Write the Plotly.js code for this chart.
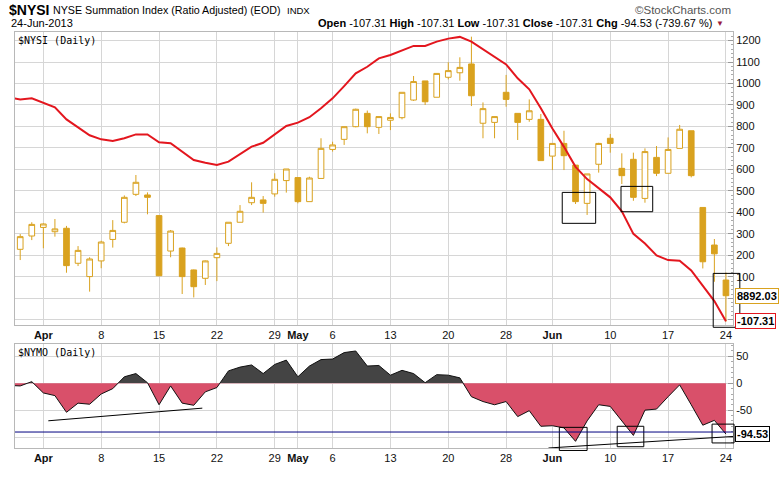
<!DOCTYPE html>
<html><head><meta charset="utf-8">
<script src="https://cdn.plot.ly/plotly-3.0.1.min.js"></script>
<style>html,body{margin:0;padding:0;background:#fff}#chart{width:784px;height:480px}</style>
</head><body><div id="chart"></div>
<script>
// ---------- data ----------
const dates = [
'2013-03-26','2013-03-27','2013-03-28',
'2013-04-01','2013-04-02','2013-04-03','2013-04-04','2013-04-05',
'2013-04-08','2013-04-09','2013-04-10','2013-04-11','2013-04-12',
'2013-04-15','2013-04-16','2013-04-17','2013-04-18','2013-04-19',
'2013-04-22','2013-04-23','2013-04-24','2013-04-25','2013-04-26',
'2013-04-29','2013-04-30','2013-05-01','2013-05-02','2013-05-03',
'2013-05-06','2013-05-07','2013-05-08','2013-05-09','2013-05-10',
'2013-05-13','2013-05-14','2013-05-15','2013-05-16','2013-05-17',
'2013-05-20','2013-05-21','2013-05-22','2013-05-23','2013-05-24',
'2013-05-28','2013-05-29','2013-05-30','2013-05-31',
'2013-06-03','2013-06-04','2013-06-05','2013-06-06','2013-06-07',
'2013-06-10','2013-06-11','2013-06-12','2013-06-13','2013-06-14',
'2013-06-17','2013-06-18','2013-06-19','2013-06-20','2013-06-21',
'2013-06-24'];

// $NYSI (red line)
const nysi = [935,926,931,911,889,833,796,759,740,732,745,763,763,726,722,683,644,631,621,636,
  670,706,724,763,802,818,843,885,931,988,1047,1078,1117,1133,1153,1175,1175,1195,1209,1217,
  1195,1159,1122,1089,1024,973,885,790,705,612,555,512,470,405,300,255,200,178,175,130,
  60,-12.78,-107.31];

// price overlay candles (from 2013-03-27)
const candleOpen  = [228,290,330,310,326,163,101,174,274,354,484,481,385,220,234,132,93,189,256,354,
  445,458,486,548,562,450,558,693,740,799,861,796,829,841,923,1012,936,1029,1050,1091,
  815,819,959,861,833,833,662,721,620,442,624,745,605,647,465,656,582,698,780,423,248,85];
const candleHigh  = [299,354,349,369,337,243,191,268,364,479,574,493,386,318,236,134,176,237,354,434,
  540,476,582,602,562,566,745,729,799,883,874,846,861,959,1035,1012,1047,1099,1122,1218,
  912,846,1040,861,926,858,721,780,620,579,724,765,675,678,698,709,749,807,780,423,276,120];
const candleLow   = [178,271,233,287,119,150,31,140,236,349,476,391,103,191,20,4,62,80,243,354,
  434,399,473,492,442,450,558,683,714,796,768,765,783,833,919,900,936,1019,1013,895,
  745,745,892,737,822,641,597,597,439,388,585,678,532,454,445,569,582,698,563,139,77,-109];
const candleClose = [287,344,346,323,152,223,183,262,316,470,540,470,105,313,101,54,174,209,354,405,
  470,442,554,602,450,560,698,714,799,880,799,846,842,959,1009,915,1047,1060,1075,943,
  883,846,926,819,873,641,721,664,450,579,721,721,571,470,683,582,693,787,571,170,207,12];
const overlayLastLabel = '8892.03';

// $NYMO (area)
const nymo = [-4,-5,3,-18,-23,-54,-37,-39,-20,-10,12,18,1,-40,-5,-37,-41,-16,-8,23,
  30,34,18,35,43,12,32,44,45,57,60,32,33,15,24,18,1,16,15,10,
  -25,-34,-40,-34,-62,-51,-80,-79,-83,-108,-70,-40,-43,-70,-97,-50,-48,-25,-3,-40,
  -78,-69,-94.53];

// header values
const headerOHLC = [-107.31,-107.31,-107.31,-107.31];
const headerChg = [-94.53,-739.67];

// axis ticks
const tickDates  = ['2013-04-01','2013-04-08','2013-04-15','2013-04-22','2013-04-29','2013-05-01','2013-05-06',
  '2013-05-13','2013-05-20','2013-05-28','2013-06-03','2013-06-10','2013-06-17','2013-06-24'];
const tickLabels = ['Apr','8','15','22','29','May','6','13','20','28','Jun','10','17','24'];
const monthLabels = ['Apr','May','Jun'];
const mainTicks = [-100,0,100,200,300,400,500,600,700,800,900,1000,1100,1200];
const mainHiddenTicks = [-100,0];      // covered by the last-value labels
const subTicks = [-100,-50,0,50];
const subHiddenTicks = [-100];

// annotation marks (index, value)
const mainBoxes = [[47.85,50.74,349,493],[52.93,55.67,403,521],[60.9,63.2,-135,116]];
const subBoxes  = [[47.6,50.0,-125,-82],[52.6,54.9,-118,-80],[60.8,62.7,-111,-76]];
const trend1X = [3.43,16.74], trend1Y = [-69.8,-46.3];
const trend2X = [46.66,62.65], trend2Y = [-120.4,-98.9];
const nymoLevel = -90.7;

// ---------- build ----------
const xIdx = dates.map((d,i)=>i);
const candleX = xIdx.slice(1);
const tickVals = tickDates.map(d=>dates.indexOf(d));
const tickText = tickLabels.map(t=>monthLabels.includes(t)?'<b>'+t+'</b>':t);

const xRange = [0.55, 62.61];
const yRange = [-124.3, 1239.8];
const y2Range = [-120.4, 72.2];
const gold = '#D9A21F', red = '#E3161E';
const F = 'Liberation Sans, Arial, sans-serif';

const traces = [
  {type:'candlestick', x:candleX, open:candleOpen, high:candleHigh, low:candleLow, close:candleClose,
   xaxis:'x', yaxis:'y', whiskerwidth:0, hoverinfo:'skip',
   increasing:{line:{color:gold,width:1}, fillcolor:'#ffffff'},
   decreasing:{line:{color:gold,width:1}, fillcolor:gold}},
  {type:'scatter', mode:'lines', x:xIdx, y:nysi, xaxis:'x', yaxis:'y',
   line:{color:red,width:2}, hoverinfo:'skip'},
  {type:'scatter', mode:'lines', x:xIdx, y:nymo, xaxis:'x2', yaxis:'y2',
   line:{color:'#111',width:1}, fill:'tozeroy',
   fillgradient:{type:'vertical', start:-100, stop:100,
     colorscale:[[0,'#D9506A'],[0.5,'#D9506A'],[0.5,'#444444'],[1,'#444444']]},
   hoverinfo:'skip'},
  {type:'scatter', mode:'lines', x:trend1X, y:trend1Y, xaxis:'x2', yaxis:'y2',
   line:{color:'#000',width:1}, hoverinfo:'skip'},
  {type:'scatter', mode:'lines', x:trend2X, y:trend2Y, xaxis:'x2', yaxis:'y2',
   line:{color:'#000',width:1}, hoverinfo:'skip'}
];

const fx = v => (v - xRange[0])/(xRange[1]-xRange[0]);
const fy = (v,r) => (v - r[0])/(r[1]-r[0]);
const shapes = [];
mainBoxes.forEach(b=>shapes.push({type:'rect', xref:'x domain', yref:'y domain',
  x0:fx(b[0]), x1:fx(b[1]), y0:fy(b[2],yRange), y1:fy(b[3],yRange), line:{color:'#000',width:1}}));
subBoxes.forEach(b=>shapes.push({type:'rect', xref:'x2 domain', yref:'y2 domain',
  x0:fx(b[0]), x1:fx(b[1]), y0:fy(b[2],y2Range), y1:fy(b[3],y2Range), line:{color:'#000',width:1}}));
shapes.push({type:'line', xref:'x2 domain', yref:'y2', x0:0, x1:1, y0:nymoLevel, y1:nymoLevel,
  line:{color:'#000080',width:1}});

const L = nysi.length-1;
const fmt = v => v.toFixed(2);
const ohlcNames = ['Open','High','Low','Close'];
const ohlcText = ohlcNames.map((n,i)=>'<b>'+n+'</b> '+fmt(headerOHLC[i])).join(' ') +
  ' <b>Chg</b> '+fmt(headerChg[0])+' ('+fmt(headerChg[1])+' %)';

const annotations = [
  {xref:'paper', yref:'paper', x:-0.011, y:1.053, xanchor:'left', yanchor:'middle', showarrow:false,
   text:'<b>$NYSI</b>', font:{family:F, size:14, color:'#000'}},
  {xref:'paper', yref:'paper', x:0.0505, y:1.052, xanchor:'left', yanchor:'middle', showarrow:false,
   text:'NYSE Summation Index (Ratio Adjusted) (EOD)', font:{family:F, size:10.7, color:'#000'}},
  {xref:'paper', yref:'paper', x:0.376, y:1.051, xanchor:'left', yanchor:'middle', showarrow:false,
   text:'INDX', font:{family:F, size:9.5, color:'#000'}},
  {xref:'paper', yref:'paper', x:1.0, y:1.052, xanchor:'right', yanchor:'middle', showarrow:false,
   text:'©StockCharts.com', font:{family:F, size:11.5, color:'#555'}},
  {xref:'paper', yref:'paper', x:-0.008, y:1.0205, xanchor:'left', yanchor:'middle', showarrow:false,
   text:'24-Jun-2013', font:{family:F, size:11, color:'#000'}},
  {xref:'paper', yref:'paper', x:0.973, y:1.0205, xanchor:'right', yanchor:'middle', showarrow:false,
   text:ohlcText, font:{family:F, size:11, color:'#000'}},
  {xref:'paper', yref:'paper', x:0.982, y:1.0205, xanchor:'center', yanchor:'middle', showarrow:false,
   text:'▼', font:{family:F, size:8, color:'#9B1B3C'}},
  {xref:'paper', yref:'paper', x:0.002, y:0.997, xanchor:'left', yanchor:'top', showarrow:false,
   text:'$NYSI (Daily)', font:{family:'DejaVu Sans Mono, monospace', size:10, color:'#000'}},
  {xref:'paper', yref:'paper', x:0.002, y:0.247, xanchor:'left', yanchor:'top', showarrow:false,
   text:'$NYMO (Daily)', font:{family:'DejaVu Sans Mono, monospace', size:10, color:'#000'}},
  {xref:'paper', yref:'y', x:1.003, y:candleClose[candleClose.length-1], xanchor:'left', yanchor:'middle', showarrow:false,
   text:'<b>'+overlayLastLabel+'</b>', font:{family:F, size:11, color:'#000'}, bgcolor:'#fff',
   bordercolor:gold, borderwidth:1, borderpad:1},
  {xref:'paper', yref:'y', x:1.003, y:nysi[L], xanchor:'left', yanchor:'middle', showarrow:false,
   text:'<b>'+fmt(nysi[L])+'</b>', font:{family:F, size:11, color:'#000'}, bgcolor:'#fff',
   bordercolor:red, borderwidth:1, borderpad:1},
  {xref:'paper', yref:'y2', x:1.003, y:nymo[L], xanchor:'left', yanchor:'middle', showarrow:false,
   text:'<b>'+fmt(nymo[L])+'</b>', font:{family:F, size:11, color:'#000'}, bgcolor:'#fff',
   bordercolor:'#000', borderwidth:1, borderpad:1}
];

const xCommon = {range:xRange, tickmode:'array', tickvals:tickVals, ticktext:tickText,
  showgrid:true, gridcolor:'#d6d6d6', gridwidth:1, showline:true, mirror:true, linecolor:'#b8b8b8',
  ticks:'', tickfont:{family:F, size:11, color:'#111'}, zeroline:false, fixedrange:true};
const yCommon = {side:'right', showgrid:true, gridcolor:'#d6d6d6', showline:true, mirror:true,
  linecolor:'#b8b8b8', ticks:'inside', ticklen:5, tickcolor:'#999', zeroline:false,
  tickfont:{family:F, size:11, color:'#111'}, fixedrange:true};
const tickLabel = (v, hidden) => hidden.includes(v) ? '' : String(v);

const layout = {
  width:784, height:480, margin:{l:15, r:51, t:32, b:32},
  paper_bgcolor:'#fff', plot_bgcolor:'#fff', showlegend:false, hovermode:false,
  xaxis:Object.assign({}, xCommon, {anchor:'y', domain:[0,1], rangeslider:{visible:false}}),
  xaxis2:Object.assign({}, xCommon, {anchor:'y2', domain:[0,1], matches:'x'}),
  yaxis:Object.assign({}, yCommon, {anchor:'x', domain:[0.2957,1], range:yRange, tickmode:'array',
    tickvals:mainTicks, ticktext:mainTicks.map(v=>tickLabel(v,mainHiddenTicks)),
    minor:{ticks:'inside', ticklen:2, dtick:20, tickcolor:'#aaa', showgrid:false}}),
  yaxis2:Object.assign({}, yCommon, {anchor:'x2', domain:[0,0.249], range:y2Range, tickmode:'array',
    tickvals:subTicks, ticktext:subTicks.map(v=>tickLabel(v,subHiddenTicks)),
    minor:{ticks:'inside', ticklen:2, dtick:10, tickcolor:'#aaa', showgrid:false}}),
  shapes:shapes, annotations:annotations
};

Plotly.newPlot('chart', traces, layout, {staticPlot:true, displayModeBar:false});
</script></body></html>
